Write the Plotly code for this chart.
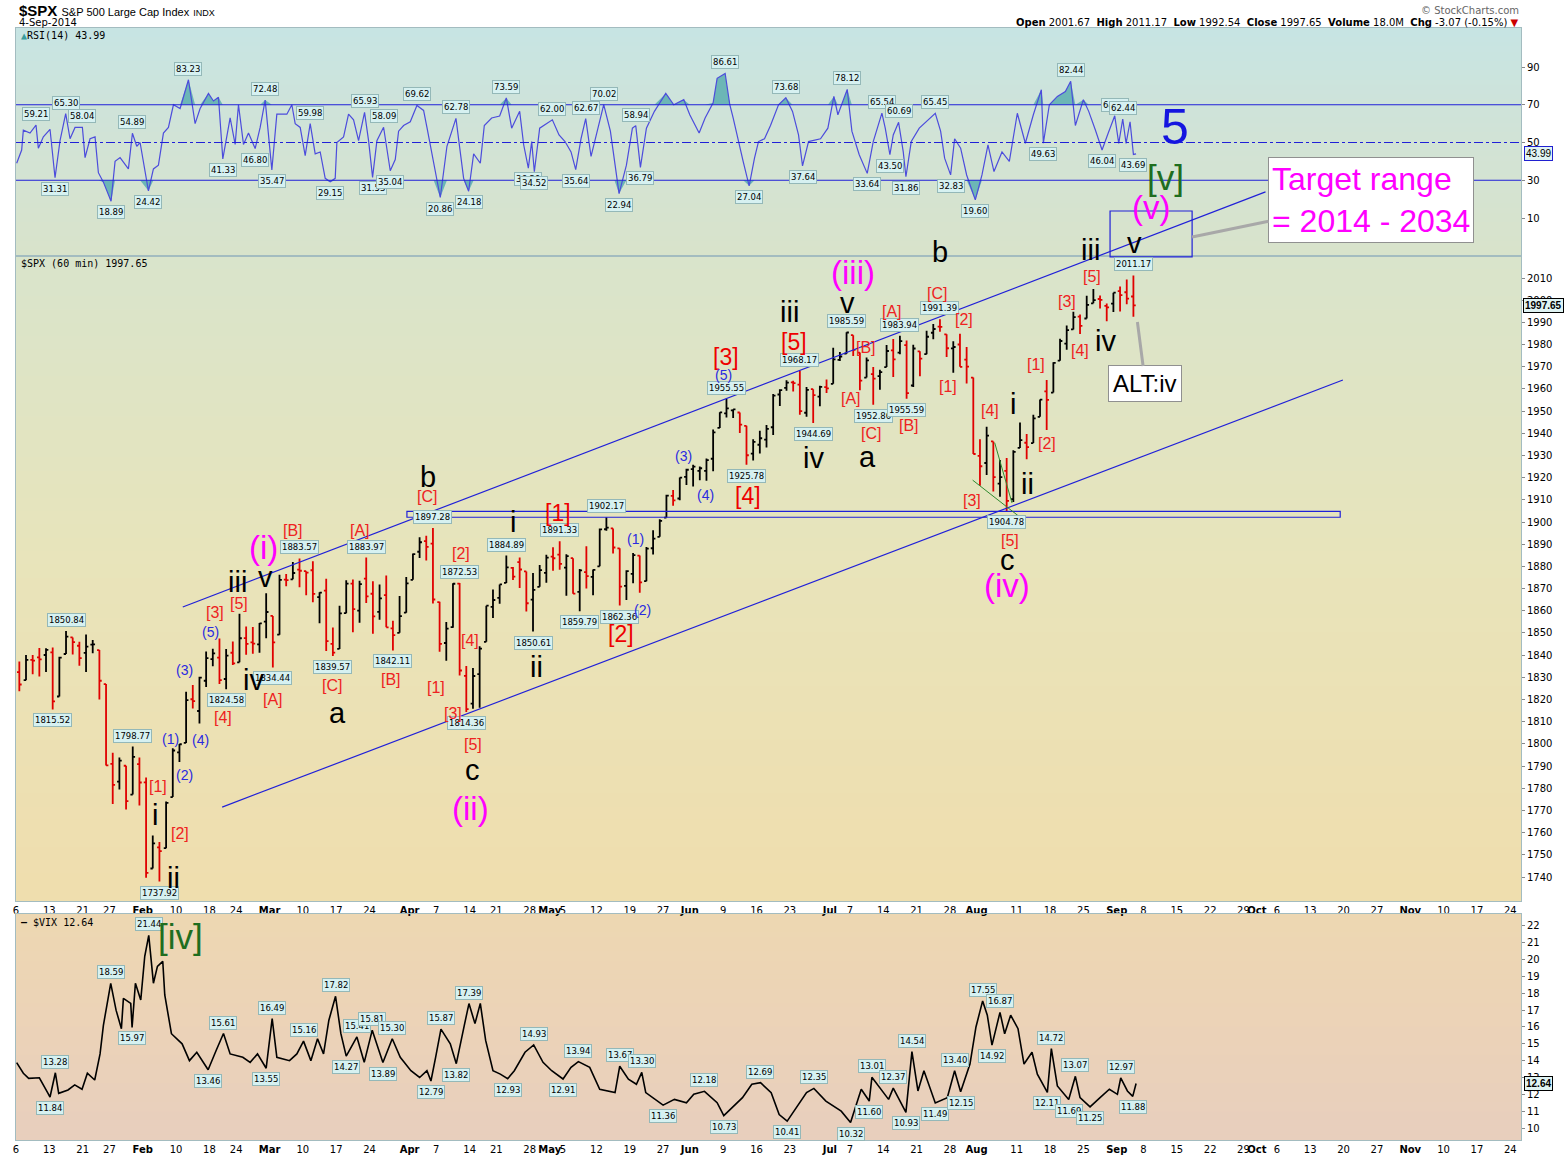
import numpy as np
import pandas as pd
import plotly.graph_objects as go

# ---------------------------------------------------------------- data
holidays = ['2014-01-20', '2014-02-17', '2014-04-18', '2014-05-26', '2014-07-04', '2014-09-01']
calendar = [d.strftime('%Y-%m-%d') for d in pd.bdate_range('2014-01-06', '2014-11-28')
            if d.strftime('%Y-%m-%d') not in holidays]
pos = {d: i for i, d in enumerate(calendar)}
bar_dates = [d for d in calendar if d <= '2014-09-04']

spx_open = [1832.31, 1828.71, 1837.90, 1839.00, 1840.06, 1841.26, 1821.36, 1840.52, 1847.99, 1844.23,
            1841.05, 1844.71, 1842.29, 1826.96, 1791.03, 1783.00, 1790.15, 1777.17, 1790.88,
            1782.68, 1743.82, 1753.38, 1752.99, 1776.01, 1796.20, 1800.45, 1820.12, 1814.82, 1828.46,
            1838.22, 1838.90, 1829.24, 1841.07, 1836.78, 1847.66, 1845.79, 1844.90, 1855.12,
            1857.68, 1849.23, 1874.05, 1874.18, 1878.52, 1877.86, 1878.26, 1866.15, 1869.06, 1845.07,
            1842.81, 1858.92, 1872.25, 1860.09, 1874.53, 1867.67, 1859.48, 1867.09, 1852.11, 1850.07,
            1859.16,
            1873.96, 1886.61, 1891.43, 1890.25, 1863.92, 1845.48, 1852.64, 1872.28, 1830.65, 1818.18,
            1831.45, 1846.01, 1861.73, 1865.79, 1872.57, 1879.32, 1881.97, 1877.72, 1865.00, 1870.78,
            1877.10,
            1884.39, 1885.30, 1879.45, 1883.69, 1868.53, 1877.39, 1875.27, 1880.03, 1896.75, 1897.13,
            1888.16, 1871.19, 1876.66, 1884.88, 1873.34, 1888.19, 1893.32, 1902.01, 1911.77, 1910.60,
            1920.33,
            1923.87, 1923.07, 1923.06, 1928.52, 1942.41, 1948.97, 1950.34, 1949.37, 1943.35, 1930.80,
            1934.84, 1937.15, 1942.73, 1957.50, 1960.45, 1962.92, 1961.97, 1949.27, 1959.89, 1956.56,
            1960.79,
            1962.29, 1973.06, 1975.88, 1984.22, 1976.39, 1965.10, 1966.67, 1965.76, 1969.86, 1977.36,
            1976.35, 1979.75, 1961.54, 1976.93, 1975.65, 1985.32, 1988.07, 1984.60, 1978.25, 1980.03,
            1973.21, 1965.14,
            1929.80, 1926.62, 1936.34, 1917.29, 1923.03, 1910.35, 1933.43, 1935.73, 1935.60, 1947.41,
            1958.87, 1958.36, 1972.73, 1980.46, 1986.82, 1992.60, 1991.74, 1998.59, 2000.54, 1997.42,
            1998.45,
            2004.07, 2003.57, 2001.67]
spx_high = [1837.16, 1840.10, 1840.02, 1843.23, 1843.15, 1843.45, 1839.26, 1850.84, 1847.99, 1846.04,
            1849.31, 1846.87, 1842.29, 1826.96, 1795.98, 1793.87, 1790.15, 1798.77, 1793.88,
            1784.83, 1758.73, 1755.79, 1774.06, 1798.03, 1799.94, 1823.54, 1826.55, 1830.25, 1841.65,
            1842.87, 1847.50, 1842.79, 1846.13, 1858.71, 1852.91, 1852.65, 1854.53, 1867.92,
            1857.68, 1876.23, 1876.53, 1881.94, 1883.57, 1877.87, 1882.35, 1868.38, 1874.40, 1852.44,
            1862.30, 1873.76, 1874.14, 1873.49, 1883.97, 1873.34, 1871.87, 1875.92, 1855.55, 1866.63,
            1875.18,
            1885.84, 1893.17, 1893.80, 1897.28, 1864.04, 1854.95, 1872.43, 1872.53, 1835.07, 1834.19,
            1844.02, 1862.31, 1869.63, 1871.89, 1884.89, 1879.75, 1884.06, 1877.72, 1877.01, 1880.60,
            1885.20,
            1888.59, 1891.33, 1885.51, 1883.69, 1878.83, 1889.07, 1878.57, 1897.13, 1902.17, 1897.13,
            1888.16, 1878.28, 1886.00, 1884.88, 1888.80, 1896.33, 1901.26, 1912.28, 1914.46, 1920.03,
            1924.03,
            1925.88, 1925.07, 1928.63, 1941.74, 1949.44, 1955.55, 1950.86, 1949.37, 1943.35, 1937.30,
            1941.15, 1943.69, 1957.74, 1959.87, 1963.91, 1963.74, 1968.17, 1960.83, 1959.89, 1961.47,
            1964.24,
            1978.58, 1976.67, 1985.59, 1984.22, 1976.39, 1974.15, 1969.84, 1968.67, 1979.85, 1982.52,
            1983.94, 1981.80, 1979.91, 1976.93, 1986.24, 1989.23, 1991.39, 1984.60, 1981.52, 1984.85,
            1978.90, 1965.14,
            1937.35, 1942.92, 1936.34, 1927.91, 1928.89, 1932.38, 1944.90, 1939.65, 1948.41, 1955.23,
            1964.04, 1971.99, 1982.57, 1988.57, 1994.76, 1993.54, 2001.95, 2005.04, 2002.14, 1998.55,
            2003.38,
            2006.12, 2009.28, 2011.17]
spx_low = [1823.73, 1828.71, 1831.40, 1830.38, 1832.43, 1815.52, 1821.36, 1840.52, 1840.30, 1835.23,
           1832.38, 1840.88, 1820.06, 1790.29, 1772.88, 1779.49, 1770.45, 1777.17, 1772.26,
           1739.66, 1743.82, 1737.92, 1752.99, 1776.01, 1791.83, 1800.41, 1815.97, 1809.22, 1825.59,
           1835.01, 1826.99, 1824.58, 1835.60, 1836.78, 1840.19, 1840.66, 1841.13, 1847.67,
           1834.44, 1849.23, 1871.11, 1874.18, 1870.56, 1867.04, 1863.88, 1854.38, 1841.86, 1839.57,
           1842.81, 1858.92, 1850.35, 1854.63, 1863.46, 1849.69, 1855.96, 1852.56, 1842.11, 1850.07,
           1859.16,
           1873.96, 1883.79, 1882.65, 1863.26, 1841.48, 1837.49, 1852.38, 1830.87, 1814.36, 1815.80,
           1816.29, 1846.01, 1856.72, 1863.18, 1872.57, 1873.91, 1870.24, 1859.70, 1850.61, 1870.78,
           1872.69,
           1878.04, 1878.50, 1866.77, 1867.72, 1859.79, 1870.05, 1867.02, 1880.03, 1896.06, 1885.77,
           1862.36, 1864.82, 1872.42, 1868.14, 1873.34, 1885.39, 1893.32, 1902.01, 1907.30, 1909.82,
           1916.64,
           1915.98, 1918.79, 1918.60, 1922.93, 1942.41, 1947.16, 1946.87, 1940.08, 1925.78, 1927.69,
           1930.91, 1933.55, 1939.29, 1952.26, 1959.17, 1958.89, 1948.34, 1947.49, 1944.69, 1952.18,
           1958.22,
           1962.29, 1972.58, 1975.88, 1974.88, 1959.46, 1965.10, 1952.86, 1959.63, 1969.86, 1965.34,
           1975.67, 1955.59, 1960.82, 1965.77, 1975.65, 1982.44, 1985.79, 1974.37, 1967.31, 1969.95,
           1962.42, 1930.67,
           1916.37, 1921.20, 1913.77, 1911.45, 1904.78, 1909.01, 1933.43, 1928.29, 1935.60, 1947.41,
           1941.50, 1958.36, 1972.73, 1977.68, 1986.82, 1984.76, 1991.74, 1998.59, 1996.20, 1990.52,
           1994.65,
           1994.85, 1998.14, 1992.54]
spx_close = [1826.77, 1837.88, 1837.49, 1838.13, 1842.37, 1819.20, 1838.88, 1848.38, 1845.89, 1838.70,
             1843.80, 1844.86, 1828.46, 1790.29, 1781.56, 1792.50, 1774.20, 1794.19, 1782.59,
             1741.89, 1755.20, 1751.64, 1773.43, 1797.02, 1799.84, 1819.75, 1819.26, 1829.83, 1838.63,
             1840.76, 1828.75, 1839.78, 1836.25, 1847.61, 1845.12, 1845.16, 1854.29, 1859.45,
             1845.73, 1873.91, 1873.81, 1877.03, 1878.04, 1877.17, 1867.63, 1868.20, 1846.34, 1841.13,
             1858.83, 1872.25, 1860.77, 1872.01, 1866.52, 1857.44, 1865.62, 1852.56, 1849.04, 1857.62,
             1872.34,
             1885.52, 1890.90, 1888.77, 1865.09, 1845.04, 1851.96, 1872.18, 1833.08, 1815.69, 1830.61,
             1842.98, 1862.31, 1864.85, 1871.89, 1879.55, 1875.39, 1878.61, 1863.40, 1869.43, 1878.33,
             1883.95,
             1883.68, 1881.14, 1884.66, 1867.72, 1878.21, 1875.63, 1878.48, 1896.65, 1897.45, 1888.53,
             1870.85, 1877.86, 1885.08, 1872.83, 1888.03, 1892.49, 1900.53, 1911.91, 1909.78, 1920.03,
             1923.57,
             1924.97, 1924.24, 1927.88, 1940.46, 1949.44, 1951.27, 1950.79, 1943.89, 1930.11, 1936.16,
             1937.78, 1941.99, 1956.98, 1959.48, 1962.87, 1962.61, 1949.98, 1959.53, 1957.22, 1960.96,
             1960.23,
             1973.32, 1974.62, 1985.44, 1977.65, 1963.71, 1972.83, 1964.68, 1967.57, 1977.10, 1973.28,
             1981.57, 1958.12, 1978.22, 1973.63, 1983.53, 1987.01, 1987.98, 1978.34, 1978.91, 1969.95,
             1970.07, 1930.67,
             1925.15, 1938.99, 1920.21, 1920.24, 1909.57, 1931.59, 1936.92, 1933.75, 1946.72, 1955.18,
             1955.06, 1971.74, 1981.60, 1986.51, 1992.37, 1988.40, 1997.92, 2000.02, 2000.12, 1996.74,
             2003.37,
             2002.28, 2000.72, 1997.65]

# RSI(14) on 60-min bars (x in trading days since 6-Jan)
rsi_x = [0.1, 0.85, 1.1, 2.1, 3.0, 3.35, 4.1, 5.1, 5.85, 6.6, 7.45, 8.1, 8.85, 9.95, 10.35, 11.1, 11.85,
         12.35, 13.1, 14.25, 14.85, 15.6, 16.85, 17.45, 18.1, 18.6, 19.85, 20.6, 21.35, 22.1, 22.85,
         23.6, 24.6, 25.85, 26.85, 27.6, 28.85, 29.6, 30.35, 31.0, 32.1, 32.85, 33.35, 34.1, 34.85,
         35.85, 36.6, 37.35, 38.35, 39.1, 40.6, 41.35, 41.85, 42.6, 43.35, 44.1, 44.85, 45.6, 46.35,
         47.1, 47.85, 48.1, 49.1, 49.85, 50.6, 51.35, 52.25, 52.85, 53.45, 54.1, 55.1, 56.1, 56.85,
         57.35, 58.1, 59.1, 60.1, 61.1, 61.6, 62.6, 63.6, 64.6, 65.95, 67.1, 67.85, 68.6, 69.6,
         70.2, 71.3, 72.5, 73.5, 74.3, 75.5, 76.1, 76.8, 77.3, 77.7, 78.5, 80.4, 81.4, 82.3, 83.2,
         83.9, 84.7, 85.4, 86.2, 87.3, 88.1, 89.1, 89.7, 90.4, 91.5, 92.4, 92.9, 93.6, 94.5, 95.7,
         97.4, 98.6, 100.1, 101.0, 102.4, 103.3, 104.5, 105.1, 106.3, 107.0, 107.5, 108.4, 109.0,
         109.9, 110.7, 111.3, 112.2, 113.1, 114.3, 115.4, 116.4, 117.3, 117.9, 118.8, 120.6, 121.7,
         122.6, 123.2, 123.8, 124.6, 125.3, 126.4, 127.6, 128.5, 129.8, 130.3, 131.0, 131.5, 132.3,
         133.0, 133.4, 134.2, 135.4, 136.5, 137.8, 138.6, 139.2, 140.1, 140.7, 141.6, 142.5, 143.8,
         144.8, 145.7, 146.6, 147.8, 148.9, 150.1, 151.3, 152.5, 153.7, 154.0, 154.9, 156.1, 157.3,
         158.1, 158.8, 160.0, 160.8, 161.8, 162.8, 163.7, 164.7, 165.3, 165.9, 166.4, 167.0, 167.5,
         167.9]
rsi_y = [39, 46, 56.5, 55, 59.21, 47, 53, 57, 31.31, 51, 65.30, 52, 58, 58.04, 42, 52, 53,
         34, 29, 18.89, 40, 42, 36, 54.89, 48, 50, 24.42, 36, 38, 55, 58,
         70, 68, 83.23, 60, 68, 76, 72, 74, 41.33, 63, 49, 70, 49, 55,
         46.80, 58, 72.48, 35.47, 65, 65, 70, 60, 58, 43, 59.98, 44, 45, 31,
         29.15, 31, 50, 53, 65, 62, 51, 65.93, 51, 31.53, 51, 58.09, 35.04, 41,
         56, 59, 61, 69.62, 67, 58, 39, 20.86, 48, 62.78, 31, 24.18, 44, 39,
         59, 63, 64, 73.59, 57.6, 66.5, 48.8, 36.39, 50.5, 34.52, 57.6, 62.00, 54, 50.5, 45,
         35.64, 52, 62.67, 42.6, 59, 70.02, 56, 41.7, 22.94, 38, 57.6, 58.94, 36.79, 57.6, 66.5,
         76, 70, 72.7, 64.7, 55, 63, 71, 84, 86.61, 70, 63, 48.8, 40,
         27.04, 41.7, 50.5, 52, 59, 70, 73.68, 66.5, 54, 37.64, 50.5, 52, 57.6,
         74.4, 64.7, 70, 78.12, 56, 43.5, 33.64, 50.5, 65.54, 57.6, 43.50, 54, 60.69,
         45, 31.86, 50.5, 57.6, 61, 65.45, 56, 41.7, 32.83, 52, 47, 32.8, 19.60,
         32.8, 48.8, 34.6, 45, 40, 65.5, 49.6, 64.7, 78, 49.63, 70, 74.4, 77,
         82.44, 59, 72.7, 66.5, 56.6, 46.04, 54.8, 64.15, 49.5, 62.44, 49.5, 61, 43.69,
         43.99]
rsi_lbl_x = [3.0, 5.85, 7.45, 9.95, 14.25, 17.45, 19.85, 25.85, 31.0, 35.85, 37.35, 38.35, 44.1, 47.1,
             52.25, 53.45, 55.1, 56.1, 60.1, 63.6, 65.95, 67.85, 73.5, 76.8, 77.7, 80.4, 83.9, 85.4,
             88.1, 90.4, 92.9, 93.6, 106.3, 109.9, 115.4, 117.9, 124.6, 127.6, 129.8, 131.0, 132.3,
             133.4, 137.8, 140.1, 143.8, 154.0, 158.1, 162.8, 164.7, 165.9, 167.5]
rsi_lbl_v = [59.21, 31.31, 65.30, 58.04, 18.89, 54.89, 24.42, 83.23, 41.33, 46.80, 72.48, 35.47, 59.98,
             29.15, 65.93, 31.53, 58.09, 35.04, 69.62, 20.86, 62.78, 24.18, 73.59, 36.39, 34.52, 62.00,
             35.64, 62.67, 70.02, 22.94, 58.94, 36.79, 86.61, 27.04, 73.68, 37.64, 78.12, 33.64, 65.54,
             43.50, 60.69, 31.86, 65.45, 32.83, 19.60, 49.63, 82.44, 46.04, 64.15, 62.44, 43.69]
rsi_lbl_side = ['H', 'L', 'H', 'H', 'L', 'H', 'L', 'H', 'L', 'L', 'H', 'L', 'H', 'L', 'H', 'L', 'H', 'L',
                'H', 'L', 'H', 'L', 'H', 'L', 'L', 'H', 'L', 'H', 'H', 'L', 'H', 'L', 'H', 'L', 'H', 'L',
                'H', 'L', 'H', 'L', 'H', 'L', 'H', 'L', 'L', 'L', 'H', 'L', 'H', 'H', 'L']

# $VIX on 60-min bars
vix_x = [0.1, 1.1, 1.9, 3.5, 4.8, 5.1, 5.9, 6.4, 7.8, 8.8, 9.9, 10.7, 11.8, 12.6, 13.1, 14.2, 15.0,
         15.8, 16.1, 17.2, 17.4, 17.9, 18.7, 19.3, 19.9, 20.6, 21.2, 22.0, 22.3, 23.3, 24.9, 26.0,
         27.1, 28.8, 30.0, 31.1, 32.1, 34.0, 35.1, 36.2, 37.5, 38.4, 39.1, 41.0, 42.1, 43.1, 44.2,
         45.2, 46.1, 46.9, 47.9, 48.7, 49.5, 51.1, 52.2, 53.4, 54.4, 55.0, 56.4, 57.6, 59.2, 60.5,
         61.6, 62.2, 62.9, 63.7, 65.1, 66.0, 67.2, 67.9, 68.8, 69.6, 70.4, 71.5, 72.6, 73.7, 74.7,
         76.3, 77.6, 79.0, 80.3, 82.0, 83.2, 84.3, 86.0, 87.5, 89.8, 90.5, 91.8, 93.0, 93.8, 94.4,
         97.0, 98.7, 100.5, 101.6, 103.2, 105.1, 106.1, 107.4, 108.9, 110.3, 111.6, 113.2, 114.4,
         115.6, 117.0, 118.5, 119.6, 121.4, 123.7, 125.1, 126.7, 127.9, 128.3, 129.3, 130.8, 131.5,
         133.4, 134.3, 135.2, 136.1, 137.8, 139.6, 140.7, 141.6, 143.0, 143.9, 144.9, 145.6, 146.3,
         147.5, 148.2, 149.1, 150.2, 151.1, 152.3, 153.1, 154.6, 155.2, 156.1, 157.8, 158.8, 159.5,
         161.0, 162.5, 163.9, 165.1, 165.6, 166.6, 167.4, 167.9]
vix_y = [13.88, 13.25, 12.95, 12.98, 12.06, 11.84, 13.28, 12.06, 12.26, 12.56, 12.3, 13.25, 12.85, 14.4,
         16.1, 18.59, 17.0, 15.9, 17.7, 17.4, 15.97, 18.6, 17.6, 20.2, 21.44, 18.6, 19.6, 19.9, 17.9,
         15.6, 15.0, 14.0, 14.5, 13.46, 14.6, 15.61, 14.4, 14.2, 13.9, 14.4, 13.55, 16.49, 14.2, 14.0,
         14.4, 15.16, 14.0, 15.3, 14.4, 16.4, 17.82, 15.6, 14.27, 15.41, 13.9, 15.81, 14.6, 13.89,
         15.30, 14.2, 13.4, 13.0, 13.4, 12.79, 14.2, 15.87, 15.0, 13.82, 16.1, 17.39, 16.2, 17.4,
         15.2, 13.4, 13.2, 12.93, 13.4, 14.5, 14.93, 13.9, 13.4, 12.91, 13.6, 13.94, 13.6, 12.3,
         12.1, 13.67, 12.9, 12.6, 13.30, 12.1, 11.36, 11.7, 11.5, 12.0, 12.18, 11.5, 10.73, 11.2,
         11.8, 12.6, 12.69, 12.1, 10.8, 10.41, 11.2, 12.1, 12.35, 11.6, 11.0, 10.32, 12.3, 11.60,
         13.01, 12.5, 11.7, 12.37, 10.93, 14.54, 12.2, 13.4, 11.49, 11.8, 13.40, 12.15, 13.8, 16.0,
         17.55, 16.7, 14.92, 16.87, 15.6, 16.7, 15.9, 13.8, 14.5, 13.2, 12.11, 14.72, 12.5, 11.69,
         13.07, 11.8, 11.25, 11.8, 12.3, 12.0, 12.97, 12.2, 11.88, 12.64]
vix_lbl_x = [5.1, 5.9, 14.2, 17.4, 19.9, 28.8, 31.1, 37.5, 38.4, 43.1, 47.9, 49.5, 51.1, 53.4, 55.0, 56.4,
             62.2, 63.7, 66.0, 67.9, 73.7, 77.6, 82.0, 84.3, 90.5, 93.8, 97.0, 103.2, 106.1, 111.6,
             115.6, 119.6, 125.1, 127.9, 128.3, 131.5, 133.4, 134.3, 137.8, 140.7, 141.6, 144.9, 146.3,
             147.5, 154.6, 155.2, 157.8, 158.8, 161.0, 165.6, 167.4]
vix_lbl_v = [11.84, 13.28, 18.59, 15.97, 21.44, 13.46, 15.61, 13.55, 16.49, 15.16, 17.82, 14.27, 15.41,
             15.81, 13.89, 15.30, 12.79, 15.87, 13.82, 17.39, 12.93, 14.93, 12.91, 13.94, 13.67, 13.30,
             11.36, 12.18, 10.73, 12.69, 10.41, 12.35, 10.32, 11.60, 13.01, 12.37, 10.93, 14.54, 11.49,
             13.40, 12.15, 17.55, 14.92, 16.87, 12.11, 14.72, 11.69, 13.07, 11.25, 12.97, 11.88]
vix_lbl_side = ['L', 'H', 'H', 'L', 'H', 'L', 'H', 'L', 'H', 'H', 'H', 'L', 'H', 'H', 'L', 'H', 'L', 'H',
                'L', 'H', 'L', 'H', 'L', 'H', 'H', 'H', 'L', 'H', 'L', 'H', 'L', 'H', 'L', 'L', 'H', 'H',
                'L', 'H', 'L', 'H', 'L', 'H', 'L', 'H', 'L', 'H', 'L', 'H', 'L', 'H', 'L']

# labelled price pivots (value read from the highs / lows above)
pivot_dates = ['2014-01-13', '2014-01-15', '2014-01-30', '2014-02-05', '2014-02-20', '2014-03-03',
               '2014-03-07', '2014-03-14', '2014-03-21', '2014-03-27', '2014-04-04', '2014-04-10',
               '2014-04-11', '2014-04-22', '2014-04-28', '2014-05-02', '2014-05-07', '2014-05-13',
               '2014-05-15', '2014-06-09', '2014-06-12', '2014-06-24', '2014-06-26', '2014-07-03',
               '2014-07-10', '2014-07-16', '2014-07-17', '2014-07-24', '2014-08-07', '2014-09-04']
pivot_side = ['L', 'H', 'H', 'L', 'L', 'L', 'H', 'L', 'H', 'L', 'H', 'H', 'L', 'H', 'L', 'H', 'L', 'H',
              'L', 'H', 'L', 'H', 'L', 'H', 'L', 'H', 'L', 'H', 'L', 'H']

tick_dates = ['2014-01-06', '2014-01-13', '2014-01-21', '2014-01-27', '2014-02-03', '2014-02-10',
              '2014-02-18', '2014-02-24', '2014-03-03', '2014-03-10', '2014-03-17', '2014-03-24',
              '2014-04-01', '2014-04-07', '2014-04-14', '2014-04-21', '2014-04-28', '2014-05-01',
              '2014-05-05', '2014-05-12', '2014-05-19', '2014-05-27', '2014-06-02', '2014-06-09',
              '2014-06-16', '2014-06-23', '2014-07-01', '2014-07-07', '2014-07-14', '2014-07-21',
              '2014-07-28', '2014-08-01', '2014-08-11', '2014-08-18', '2014-08-25', '2014-09-02',
              '2014-09-08', '2014-09-15', '2014-09-22', '2014-09-29', '2014-10-01', '2014-10-06',
              '2014-10-13', '2014-10-20', '2014-10-27', '2014-11-03', '2014-11-10', '2014-11-17',
              '2014-11-24']
tick_text = ['6', '13', '21', '27', '<b>Feb</b>', '10', '18', '24', '<b>Mar</b>', '10', '17', '24',
             '<b>Apr</b>', '7', '14', '21', '28', '<b>May</b>', '5', '12', '19', '27', '<b>Jun</b>', '9',
             '16', '23', '<b>Jul</b>', '7', '14', '21', '28', '<b>Aug</b>', '11', '18', '25', '<b>Sep</b>',
             '8', '15', '22', '29', '<b>Oct</b>', '6', '13', '20', '27', '<b>Nov</b>', '10', '17', '24']

# ---------------------------------------------------------------- geometry
W, H = 1565, 1157
ML, MR, MT, MB = 16, 44, 28, 17
PW, PH = W - ML - MR, H - MT - MB


def pxy(py):
    return (H - MB - py) / PH


def pxx(px):
    return (px - ML) / PW


RSI_D = [pxy(256), 1.0]
PRICE_D = [pxy(901), pxy(256)]
VIX_D = [0.0, pxy(914)]
XR = [0, 225.6]
RSI_R = [-10.13, 110.66]
PRICE_R = [1729.18, 2019.92]
VIX_R = [9.287, 22.71]


def yp(p):  # price -> paper
    return PRICE_D[0] + (p - PRICE_R[0]) / (PRICE_R[1] - PRICE_R[0]) * (PRICE_D[1] - PRICE_D[0])


# ---------------------------------------------------------------- figure
fig = go.Figure()
bx = np.array([pos[d] + 0.5 for d in bar_dates])
assert len(bx) == len(spx_open) == len(spx_high) == len(spx_low) == len(spx_close)

rx = np.array(rsi_x)
ry = np.array(rsi_y)
TEAL = '#6cb6b6'
fig.add_trace(go.Scatter(x=rx, y=np.full(len(rx), 70.0), mode='lines', line=dict(width=0),
                         xaxis='x', yaxis='y', hoverinfo='skip', showlegend=False))
fig.add_trace(go.Scatter(x=rx, y=np.maximum(ry, 70), mode='lines', line=dict(width=0), fill='tonexty',
                         fillcolor=TEAL, xaxis='x', yaxis='y', hoverinfo='skip', showlegend=False))
fig.add_trace(go.Scatter(x=rx, y=np.full(len(rx), 30.0), mode='lines', line=dict(width=0),
                         xaxis='x', yaxis='y', hoverinfo='skip', showlegend=False))
fig.add_trace(go.Scatter(x=rx, y=np.minimum(ry, 30), mode='lines', line=dict(width=0), fill='tonexty',
                         fillcolor=TEAL, xaxis='x', yaxis='y', hoverinfo='skip', showlegend=False))
fig.add_trace(go.Scatter(x=rx, y=ry, mode='lines', line=dict(color='#4c4cdc', width=1.2),
                         xaxis='x', yaxis='y', hoverinfo='skip', showlegend=False))

fig.add_trace(go.Ohlc(x=bx, open=spx_open, high=spx_high, low=spx_low, close=spx_close,
                      increasing=dict(line=dict(color='black', width=1.8)),
                      decreasing=dict(line=dict(color='#e00000', width=1.8)),
                      tickwidth=0.35, xaxis='x2', yaxis='y2', hoverinfo='skip', showlegend=False))

fig.add_trace(go.Scatter(x=vix_x, y=vix_y, mode='lines', line=dict(color='black', width=1.6),
                         xaxis='x3', yaxis='y3', hoverinfo='skip', showlegend=False))

# ---------------------------------------------------------------- shapes
shapes = []


def hexrgb(h):
    h = h.lstrip('#')
    return np.array([int(h[i:i + 2], 16) for i in (0, 2, 4)], dtype=float)


def gradient(d0, d1, stops, n=48):
    cols = [hexrgb(c) for c in stops]
    for k in range(n):
        t = (k + 0.5) / n  # 0 = top
        seg = t * (len(cols) - 1)
        j = min(int(seg), len(cols) - 2)
        f = seg - j
        c = cols[j] * (1 - f) + cols[j + 1] * f
        top = d1 - (d1 - d0) * k / n
        bot = d1 - (d1 - d0) * (k + 1) / n
        shapes.append(dict(type='rect', xref='paper', yref='paper', x0=0, x1=1, y0=bot - 0.0005,
                           y1=top + 0.0005, fillcolor='rgb(%d,%d,%d)' % tuple(c), line=dict(width=0),
                           layer='below'))


gradient(RSI_D[0], RSI_D[1], ['#c7e5e4', '#d2e3d6', '#d9e4cb'])
gradient(PRICE_D[0], PRICE_D[1], ['#d9e5cc', '#e9e4ba', '#f0deae'])
gradient(VIX_D[0], VIX_D[1], ['#eed8b2', '#ecd3b8', '#e8cfbe'])

BLUE = '#2020d8'
for lv, dash in [(70, 'solid'), (30, 'solid'), (50, 'dashdot')]:
    shapes.append(dict(type='line', xref='paper', yref='y', x0=0, x1=1, y0=lv, y1=lv,
                       line=dict(color=BLUE, width=1, dash=dash)))

# trend channel, horizontal support box, target box, green wedge lines
shapes.append(dict(type='line', xref='x', yref='paper', x0=25.0, x1=187.3, y0=yp(1861.7), y1=yp(2048.8),
                   line=dict(color=BLUE, width=1.2)))
shapes.append(dict(type='line', xref='x', yref='paper', x0=30.9, x1=198.9, y0=yp(1771.5), y1=yp(1964.0),
                   line=dict(color=BLUE, width=1.2)))
shapes.append(dict(type='rect', xref='x', yref='paper', x0=58.6, x1=198.5, y0=yp(1902.17), y1=yp(1904.78),
                   line=dict(color=BLUE, width=1.2)))
shapes.append(dict(type='rect', xref='x', yref='paper', x0=164.0, x1=176.3, y0=yp(2019.5), y1=yp(2040.2),
                   line=dict(color=BLUE, width=1.2)))
shapes.append(dict(type='line', xref='x', yref='paper', x0=143.4, x1=150.2, y0=yp(1918.9), y1=yp(1902.9),
                   line=dict(color='#2f8a2f', width=1)))
shapes.append(dict(type='line', xref='x', yref='paper', x0=146.7, x1=149.3, y0=yp(1935.8), y1=yp(1908.6),
                   line=dict(color='#2f8a2f', width=1)))

# ---------------------------------------------------------------- annotations
ann = []
LBL_FONT = dict(family='DejaVu Sans', size=8.5, color='black')
LBL_BOX = dict(bgcolor='#d6f1f1', bordercolor='#94b8b8', borderwidth=1, borderpad=1)

for d, s in zip(pivot_dates, pivot_side):
    i = pos[d]
    v = spx_high[i] if s == 'H' else spx_low[i]
    ann.append(dict(x=i + 0.5, y=yp(v), xref='x', yref='paper', text='%.2f' % v, showarrow=False,
                    yshift=11 if s == 'H' else -11, font=LBL_FONT, **LBL_BOX))
for x, v, s in zip(rsi_lbl_x, rsi_lbl_v, rsi_lbl_side):
    ann.append(dict(x=x, y=v, xref='x', yref='y', text='%.2f' % v, showarrow=False,
                    yshift=11 if s == 'H' else -11, font=LBL_FONT, **LBL_BOX))
for x, v, s in zip(vix_lbl_x, vix_lbl_v, vix_lbl_side):
    ann.append(dict(x=x, y=v, xref='x', yref='y3', text='%.2f' % v, showarrow=False,
                    yshift=11 if s == 'H' else -11, font=LBL_FONT, **LBL_BOX))

STY = {
    'blk': dict(family='Liberation Sans', size=29, color='black'),
    'mag': dict(family='Liberation Sans', size=33, color='#ff00ff'),
    'redS': dict(family='Liberation Sans', size=16, color='#ee2222'),
    'redL': dict(family='Liberation Sans', size=23, color='#ee0000'),
    'blu': dict(family='Liberation Sans', size=14, color='#2a2ae0'),
}
wave_labels = [
    ('i', 20.84, 1767.9, 'blk'), ('ii', 23.54, 1739.5, 'blk'), ('iii', 33.13, 1873.0, 'blk'),
    ('v', 37.33, 1875.2, 'blk'), ('iv', 35.53, 1828.8, 'blk'), ('a', 48.13, 1813.9, 'blk'),
    ('b', 61.77, 1920.3, 'blk'), ('c', 68.37, 1788.2, 'blk'), ('i', 74.51, 1900.0, 'blk'),
    ('ii', 77.96, 1834.7, 'blk'), ('iii', 115.9, 1994.7, 'blk'), ('v', 124.6, 1998.7, 'blk'),
    ('iv', 119.5, 1928.9, 'blk'), ('a', 127.7, 1929.3, 'blk'), ('b', 138.5, 2021.7, 'blk'),
    ('c', 148.6, 1882.9, 'blk'), ('i', 149.5, 1953.2, 'blk'), ('ii', 151.6, 1917.1, 'blk'),
    ('iii', 161.0, 2022.6, 'blk'), ('v', 167.6, 2025.8, 'blk'), ('iv', 163.3, 1981.6, 'blk'),
    ('(i)', 37.03, 1888.7, 'mag'), ('(ii)', 68.07, 1771.1, 'mag'), ('(iii)', 125.5, 2012.7, 'mag'),
    ('(iv)', 148.6, 1871.6, 'mag'), ('(v)', 170.2, 2041.6, 'mag'),
    ('[1]', 21.3, 1780.6, 'redS'), ('[2]', 24.6, 1759.8, 'redS'), ('[3]', 29.8, 1859.4, 'redS'),
    ('[5]', 33.4, 1863.1, 'redS'), ('[4]', 31.0, 1812.1, 'redS'), ('[B]', 41.5, 1896.4, 'redS'),
    ('[A]', 38.5, 1819.8, 'redS'), ('[C]', 47.4, 1826.5, 'redS'), ('[A]', 51.6, 1896.0, 'redS'),
    ('[B]', 56.2, 1828.8, 'redS'), ('[C]', 61.6, 1911.3, 'redS'), ('[2]', 66.7, 1886.0, 'redS'),
    ('[4]', 68.1, 1846.4, 'redS'), ('[1]', 63.0, 1825.2, 'redS'), ('[3]', 65.5, 1813.9, 'redS'),
    ('[5]', 68.5, 1799.9, 'redS'),
    ('[1]', 81.3, 1904.1, 'redL'), ('[2]', 90.7, 1849.5, 'redL'), ('[3]', 106.4, 1974.4, 'redL'),
    ('[4]', 109.7, 1911.7, 'redL'), ('[5]', 116.6, 1981.2, 'redL'),
    ('[B]', 127.4, 1978.9, 'redS'), ('[A]', 125.2, 1955.5, 'redS'), ('[C]', 128.2, 1939.7, 'redS'),
    ('[A]', 131.3, 1995.1, 'redS'), ('[B]', 133.9, 1943.7, 'redS'), ('[C]', 138.1, 2003.2, 'redS'),
    ('[2]', 142.1, 1991.1, 'redS'), ('[1]', 139.7, 1961.3, 'redS'), ('[4]', 146.0, 1950.5, 'redS'),
    ('[3]', 143.3, 1909.5, 'redS'), ('[5]', 149.0, 1891.9, 'redS'), ('[1]', 152.9, 1971.2, 'redS'),
    ('[2]', 154.6, 1935.2, 'redS'), ('[3]', 157.6, 1999.2, 'redS'), ('[5]', 161.3, 2010.5, 'redS'),
    ('[4]', 159.5, 1977.5, 'redS'),
    ('(1)', 23.1, 1802.2, 'blu'), ('(2)', 25.2, 1786.0, 'blu'), ('(3)', 25.3, 1833.3, 'blu'),
    ('(4)', 27.6, 1801.7, 'blu'), ('(5)', 29.2, 1850.4, 'blu'), ('(1)', 92.8, 1892.4, 'blu'),
    ('(2)', 93.9, 1860.3, 'blu'), ('(3)', 100.0, 1929.8, 'blu'), ('(4)', 103.4, 1912.2, 'blu'),
    ('(5)', 106.0, 1966.3, 'blu'),
]
for t, x, p, s in wave_labels:
    ann.append(dict(x=x, y=yp(p), xref='x', yref='paper', text=t, showarrow=False, font=STY[s]))

ann.append(dict(x=173.8, y=58.2, xref='x', yref='y', text='5', showarrow=False,
                font=dict(family='Liberation Sans', size=50, color='#1515e0')))
ann.append(dict(x=172.3, y=31.7, xref='x', yref='y', text='[v]', showarrow=False,
                font=dict(family='Liberation Sans', size=35, color='#1f6e1f')))
ann.append(dict(x=24.7, y=21.35, xref='x', yref='y3', text='[iv]', showarrow=False,
                font=dict(family='Liberation Sans', size=35, color='#1f6e1f')))

# call-outs
ann.append(dict(x=176.3, y=pxy(237), xref='x', yref='paper', ax=179, ay=-37, axref='pixel', ayref='pixel',
                text='Target range<br>= 2014 - 2034', align='left', showarrow=True, arrowhead=0,
                arrowwidth=3, arrowcolor='#a8a8a8', standoff=0,
                font=dict(family='Liberation Sans', size=32, color='#ff00ff'),
                bgcolor='white', bordercolor='#909090', borderwidth=1, borderpad=3))
ann.append(dict(x=168.1, y=yp(1990.2), xref='x', yref='paper', ax=8, ay=62, axref='pixel', ayref='pixel',
                text='ALT:iv', showarrow=True, arrowhead=0, arrowwidth=3, arrowcolor='#a8a8a8',
                standoff=0, font=dict(family='Liberation Sans', size=24, color='black'),
                bgcolor='white', bordercolor='#909090', borderwidth=1, borderpad=4))

# last-value tags on the right axes
TAGF = dict(family='Liberation Sans', size=10, color='black')
ann.append(dict(x=1.0, y=43.99, xref='paper', yref='y', xanchor='left', text='43.99', showarrow=False,
                font=TAGF, bgcolor='#dff3f3', bordercolor='#2020d0', borderwidth=1, borderpad=1, xshift=3))
ann.append(dict(x=1.0, y=yp(1997.65), xref='paper', yref='paper', xanchor='left', text='<b>1997.65</b>',
                showarrow=False, font=TAGF, bgcolor='#dff3f3', bordercolor='black', borderwidth=1,
                borderpad=1, xshift=2))
ann.append(dict(x=1.0, y=12.64, xref='paper', yref='y3', xanchor='left', text='<b>12.64</b>',
                showarrow=False, font=TAGF, bgcolor='#dff3f3', bordercolor='black', borderwidth=1,
                borderpad=1, xshift=3))

# header & panel legends
ann.append(dict(x=pxx(17), y=pxy(10), xref='paper', yref='paper', xanchor='left',
                showarrow=False,
                text="<b>$SPX</b> <span style='font-size:11px'>S&P 500 Large Cap Index</span>"
                     " <span style='font-size:9px'>INDX</span>",
                font=dict(family='Liberation Sans', size=15, color='black')))
ann.append(dict(x=pxx(17), y=pxy(23), xref='paper', yref='paper', xanchor='left',
                showarrow=False, text='4-Sep-2014',
                font=dict(family='DejaVu Sans', size=10, color='black')))
ann.append(dict(x=pxx(1521), y=pxy(10), xref='paper', yref='paper', xanchor='right',
                showarrow=False, text='© StockCharts.com',
                font=dict(family='DejaVu Sans', size=10, color='#666666')))
ann.append(dict(x=pxx(1521), y=pxy(23), xref='paper', yref='paper', xanchor='right',
                showarrow=False,
                text="<b>Open</b> 2001.67  <b>High</b> 2011.17  <b>Low</b> 1992.54  <b>Close</b> 1997.65  "
                     "<b>Volume</b> 18.0M  <b>Chg</b> -3.07 (-0.15%) <span style='color:#cc0000'>▼</span>",
                font=dict(family='DejaVu Sans', size=10, color='black')))
ann.append(dict(x=pxx(19), y=pxy(36), xref='paper', yref='paper', xanchor='left',
                showarrow=False, text="<span style='color:#3a9c9c'>▲</span>RSI(14) 43.99",
                font=dict(family='DejaVu Sans Mono', size=10, color='black')))
ann.append(dict(x=pxx(19), y=pxy(263), xref='paper', yref='paper', xanchor='left',
                showarrow=False, text='$SPX (60 min) 1997.65',
                font=dict(family='DejaVu Sans Mono', size=10, color='black')))
ann.append(dict(x=pxx(19), y=pxy(922), xref='paper', yref='paper', xanchor='left',
                showarrow=False, text='<b>–</b> $VIX 12.64',
                font=dict(family='DejaVu Sans Mono', size=10, color='black')))

for a in ann:
    a.setdefault('xanchor', 'center')
    a.setdefault('yanchor', 'middle')

# ---------------------------------------------------------------- axes
tickpos = [pos[d] for d in tick_dates]
AX_LINE = '#a3bcc0'
TICKF = dict(family='DejaVu Sans', size=10, color='black')


def xax(anchor, labels):
    return dict(domain=[0, 1], range=XR, anchor=anchor, showgrid=False, zeroline=False, showline=True,
                mirror=True, linecolor=AX_LINE, linewidth=1, tickmode='array', tickvals=tickpos,
                ticktext=tick_text, showticklabels=labels, tickangle=0, tickfont=TICKF, ticks='',
                fixedrange=True, automargin=False)


def yax(anchor, dom, rng, vals):
    return dict(domain=dom, range=rng, anchor=anchor, side='right', showgrid=False, zeroline=False,
                showline=True, mirror=True, linecolor=AX_LINE, linewidth=1, tickmode='array',
                tickvals=vals, ticks='outside', ticklen=3, tickcolor='#888888', tickfont=TICKF,
                fixedrange=True, automargin=False)


fig.update_layout(
    width=W, height=H, margin=dict(l=ML, r=MR, t=MT, b=MB, pad=0, autoexpand=False),
    paper_bgcolor='white', plot_bgcolor='rgba(0,0,0,0)', showlegend=False,
    xaxis=xax('y', False), xaxis2=xax('y2', True), xaxis3=xax('y3', True),
    yaxis=yax('x', RSI_D, RSI_R, [10, 30, 50, 70, 90]),
    yaxis2=yax('x2', PRICE_D, PRICE_R, list(range(1740, 2011, 10))),
    yaxis3=yax('x3', VIX_D, VIX_R, list(range(10, 23))),
    shapes=shapes, annotations=ann,
)
fig.update_xaxes(rangeslider_visible=False)

# the page's default 8px body margin would shift the figure; remove it
fig.write_html('out.html', config={'displayModeBar': False},
               post_script="document.body.style.margin='0px';document.body.style.overflow='hidden';")
